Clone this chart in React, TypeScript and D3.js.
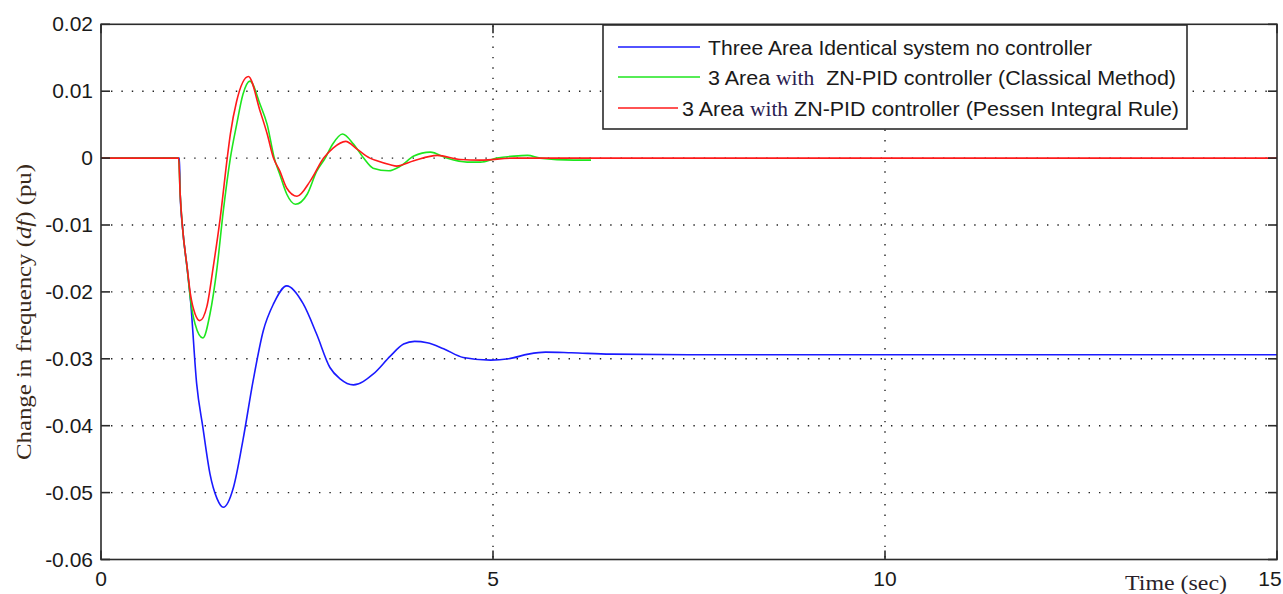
import React from "react";
import * as d3 from "d3";

// Time axis (sec)
const xTicks = [0, 5, 10, 15];
const xTickLabels = ["0", "5", "10", "15"];
// Frequency deviation axis (pu)
const yTicks = [0.02, 0.01, 0, -0.01, -0.02, -0.03, -0.04, -0.05, -0.06];
const yTickLabels = ["0.02", "0.01", "0", "-0.01", "-0.02", "-0.03", "-0.04", "-0.05", "-0.06"];

// Three area identical system, no controller
const blueT = [0, 1.0, 1.01, 1.04, 1.10, 1.14, 1.22, 1.30, 1.39, 1.48, 1.56, 1.69, 1.81, 1.94, 2.07, 2.20, 2.37, 2.58, 2.75, 2.92, 3.05, 3.22, 3.47, 3.69, 3.86, 4.0, 4.16, 4.37, 4.62, 4.97, 5.2, 5.45, 5.67, 6.0, 6.5, 7.5, 15];
const blueV = [0, 0, -0.0054, -0.0104, -0.0166, -0.021, -0.0337, -0.0403, -0.0472, -0.0509, -0.0522, -0.0492, -0.0422, -0.0333, -0.0258, -0.0218, -0.0191, -0.0218, -0.0263, -0.0313, -0.0330, -0.0339, -0.0323, -0.0296, -0.0278, -0.0274, -0.0276, -0.0285, -0.0298, -0.0302, -0.0300, -0.0293, -0.0290, -0.0291, -0.0293, -0.0294, -0.0294];

// ZN-PID controller (classical method)
const greenT = [0, 0.99, 1.01, 1.04, 1.10, 1.14, 1.20, 1.30, 1.39, 1.48, 1.56, 1.65, 1.73, 1.81, 1.90, 2.03, 2.12, 2.21, 2.28, 2.37, 2.48, 2.63, 2.75, 2.86, 2.95, 3.08, 3.22, 3.35, 3.47, 3.67, 3.82, 3.99, 4.2, 4.41, 4.67, 4.84, 5.05, 5.27, 5.44, 5.6, 6.03, 6.25];
const greenV = [0, 0, -0.0054, -0.0104, -0.0166, -0.0210, -0.0248, -0.0269, -0.0233, -0.0164, -0.0079, 0, 0.0050, 0.0095, 0.0115, 0.0080, 0.0050, 0, -0.0024, -0.0054, -0.0069, -0.0054, -0.0020, 0, 0.0020, 0.0036, 0.0021, 0, -0.0015, -0.0019, -0.0012, 0.0003, 0.0009, 0, -0.0006, -0.0006, 0, 0.0003, 0.0004, 0, -0.0003, -0.0003];

// ZN-PID controller (Pessen integral rule)
const redT = [0, 0.99, 1.01, 1.04, 1.10, 1.14, 1.20, 1.26, 1.35, 1.43, 1.52, 1.61, 1.65, 1.73, 1.88, 2.03, 2.12, 2.20, 2.28, 2.37, 2.50, 2.67, 2.84, 2.96, 3.12, 3.27, 3.43, 3.52, 3.69, 3.77, 3.99, 4.29, 4.58, 4.84, 5.27, 15];
const redV = [0, 0, -0.0054, -0.0104, -0.0164, -0.0203, -0.0233, -0.0243, -0.0222, -0.0164, -0.0090, 0, 0.0036, 0.0085, 0.0122, 0.0070, 0.0036, 0, -0.0019, -0.0045, -0.0057, -0.0034, 0, 0.0015, 0.0025, 0.0013, 0, -0.0004, -0.0010, -0.0012, -0.0004, 0.0004, -0.0002, -0.0003, 0, 0];

const W = 1283;
const H = 594;
const left = 101;
const right = 1277;
const top = 24.3;
const bottom = 559.5;

const AXIS = "#2b2b2b";
const SANS = "'Liberation Sans', Arial, sans-serif";
const SERIF = "'Liberation Serif', 'Times New Roman', serif";

export default function App() {
  const x = d3.scaleLinear().domain([0, 15]).range([left, right]);
  const y = d3.scaleLinear().domain([-0.06, 0.02]).range([bottom, top]);

  const line = d3
    .line<[number, number]>()
    .x((d) => x(d[0]))
    .y((d) => y(d[1]))
    .curve(d3.curveMonotoneX);

  const zip = (t: number[], v: number[]) => t.map((tt, i) => [tt, v[i]] as [number, number]);

  const series = [
    { pts: zip(blueT, blueV), color: "#1a1aff" },
    { pts: zip(greenT, greenV), color: "#1ee61e" },
    { pts: zip(redT, redV), color: "#ff1a1a" },
  ];

  const tickLen = 9;

  return (
    <svg
      width={W}
      height={H}
      style={{ position: "absolute", left: 0, top: 0, background: "#fff" }}
    >
      <rect x={0} y={0} width={W} height={H} fill="#fff" />

      {/* dotted grid */}
      <g stroke="#222" strokeWidth={1.4} strokeDasharray="1.4 9" fill="none">
        {yTicks.slice(1, -1).map((v) => (
          <line key={"gy" + v} x1={left + 10} x2={right} y1={y(v)} y2={y(v)} />
        ))}
        {xTicks.slice(1, -1).map((v) => (
          <line key={"gx" + v} x1={x(v)} x2={x(v)} y1={bottom - 2} y2={top} />
        ))}
      </g>

      {/* curves */}
      {series.map((s, i) => (
        <path key={i} d={line(s.pts) || ""} fill="none" stroke={s.color} strokeWidth={1.6} />
      ))}

      {/* axes box and ticks */}
      <g stroke={AXIS} strokeWidth={1.6} fill="none">
        <rect x={left} y={top} width={right - left} height={bottom - top} />
        {yTicks.map((v) => (
          <g key={"ty" + v}>
            <line x1={left} x2={left + tickLen} y1={y(v)} y2={y(v)} />
            <line x1={right} x2={right - tickLen} y1={y(v)} y2={y(v)} />
          </g>
        ))}
        {xTicks.map((v) => (
          <g key={"tx" + v}>
            <line x1={x(v)} x2={x(v)} y1={bottom} y2={bottom - tickLen} />
            <line x1={x(v)} x2={x(v)} y1={top} y2={top + tickLen} />
          </g>
        ))}
      </g>

      {/* tick labels */}
      <g fontFamily={SANS} fontSize={21} fill="#1a1a1a">
        {yTicks.map((v, i) => (
          <text key={"ly" + v} x={left - 8} y={y(v) + 7} textAnchor="end">
            {yTickLabels[i]}
          </text>
        ))}
        {xTicks.map((v, i) => (
          <text
            key={"lx" + v}
            x={Math.min(x(v), W - 13)}
            y={586}
            textAnchor="middle"
          >
            {xTickLabels[i]}
          </text>
        ))}
      </g>

      {/* axis titles */}
      <text
        x={1125}
        y={590}
        fontFamily={SERIF}
        fontSize={22}
        fill="#2a1f2a"
        textLength={102}
        lengthAdjust="spacingAndGlyphs"
      >
        Time (sec)
      </text>
      <text
        transform={`translate(31, 312) rotate(-90)`}
        textAnchor="middle"
        fontFamily={SERIF}
        fontSize={22}
        fill="#3a2a1a"
        textLength={296}
        lengthAdjust="spacingAndGlyphs"
      >
        Change in frequency (<tspan fontStyle="italic">df</tspan>) (pu)
      </text>

      {/* legend */}
      <g>
        <rect x={603} y={25} width={584} height={104} fill="#fff" stroke={AXIS} strokeWidth={1.6} />
        <line x1={618} x2={700} y1={47} y2={47} stroke="#1a1aff" strokeWidth={1.6} />
        <line x1={618} x2={700} y1={77} y2={77} stroke="#1ee61e" strokeWidth={1.6} />
        <line x1={618} x2={678} y1={108} y2={108} stroke="#ff1a1a" strokeWidth={1.6} />
        <g fontFamily={SANS} fontSize={21} fill="#1a1a1a">
          <text x={708} y={55} textLength={384} lengthAdjust="spacingAndGlyphs">
            Three Area Identical system no controller
          </text>
          <text x={708} y={85} textLength={468} lengthAdjust="spacingAndGlyphs">
            3 Area <tspan fontFamily={SERIF} fill="#2a2050">with</tspan>{"\u00a0 "}ZN-PID controller (Classical Method)
          </text>
          <text x={682} y={116} textLength={497} lengthAdjust="spacingAndGlyphs">
            3 Area <tspan fontFamily={SERIF} fill="#2a2050">with</tspan> ZN-PID controller (Pessen Integral Rule)
          </text>
        </g>
      </g>
    </svg>
  );
}
